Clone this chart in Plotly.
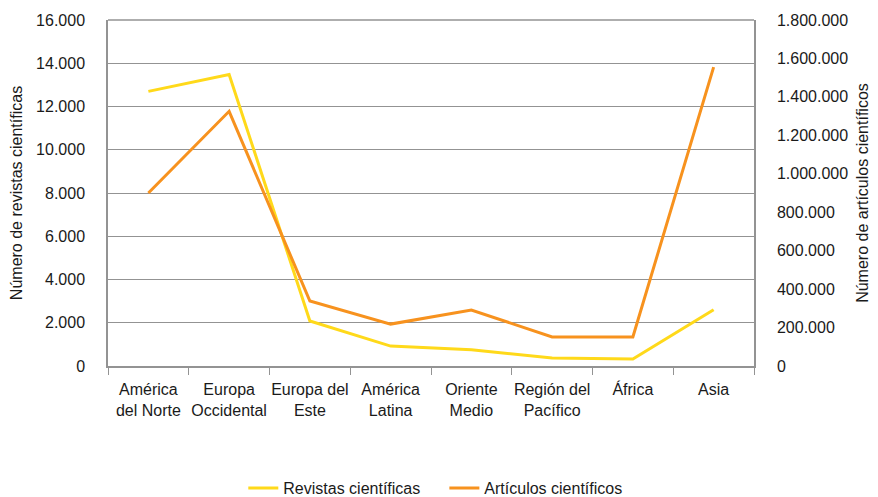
import plotly.graph_objects as go

categories = ["América<br>del Norte", "Europa<br>Occidental", "Europa del<br>Este", "América<br>Latina",
              "Oriente<br>Medio", "Región del<br>Pacífico", "África", "Asia"]
revistas = [12700, 13480, 2080, 920, 750, 370, 320, 2600]
articulos = [900000, 1325000, 338000, 218000, 291000, 151000, 151000, 1555000]
left_ticks = [0, 2000, 4000, 6000, 8000, 10000, 12000, 14000, 16000]
right_ticks = [0, 200000, 400000, 600000, 800000, 1000000, 1200000, 1400000, 1600000, 1800000]

FONT = "Liberation Sans, Arial, sans-serif"
YELLOW = "#FFD91A"
ORANGE = "#F7921E"
GRID = "#939393"
TXT = "#1a1a1a"
FS = 16

fig = go.Figure()
fig.add_trace(go.Scatter(x=categories, y=revistas, mode="lines", name="Revistas científicas",
                         line=dict(color=YELLOW, width=3), yaxis="y", legend="legend"))
fig.add_trace(go.Scatter(x=categories, y=articulos, mode="lines", name="Artículos científicos",
                         line=dict(color=ORANGE, width=3), yaxis="y2", legend="legend2"))

leg_common = dict(orientation="h", xanchor="left", xref="container",
                  y=0.034, yanchor="middle", yref="container",
                  font=dict(size=FS), bgcolor="rgba(0,0,0,0)")

fig.update_layout(
    width=878, height=497,
    margin=dict(l=100, r=132, t=12, b=139, autoexpand=False),
    paper_bgcolor="white", plot_bgcolor="white",
    separators=",.",
    font=dict(family=FONT, size=FS, color=TXT),
    showlegend=True,
    legend=dict(x=0.268, **leg_common),
    legend2=dict(x=0.497, **leg_common),
    xaxis=dict(
        type="category", showgrid=False, showline=True, linecolor=GRID, linewidth=1.5,
        ticks="outside", tickcolor=GRID, ticklen=7, tickson="boundaries", tickangle=0,
        tickfont=dict(size=FS, color=TXT), range=[-0.5, 7.5], automargin=False,
        ticklabelstandoff=8,
    ),
    yaxis=dict(
        range=[0, 16000], tickvals=left_ticks, tickformat=",.0f",
        showgrid=True, gridcolor=GRID, gridwidth=1.2, showline=True, linecolor=GRID, linewidth=1.5,
        zeroline=False, ticks="", tickfont=dict(size=FS, color=TXT), automargin=False,
        ticklabelstandoff=18,
        title=dict(text="Número de revistas científicas", font=dict(size=FS, color=TXT), standoff=14),
    ),
    yaxis2=dict(
        range=[0, 1800000], tickvals=right_ticks, tickformat=",.0f", overlaying="y", side="right",
        showgrid=False, showline=True, linecolor=GRID, linewidth=1.5, zeroline=False, ticks="",
        tickfont=dict(size=FS, color=TXT), automargin=False, ticklabelstandoff=18,
        title=dict(text="Número de artículos científicos", font=dict(size=FS, color=TXT), standoff=10),
    ),
)
# top border of the plot area
fig.add_shape(type="line", xref="paper", yref="paper", x0=0, x1=1, y0=1, y1=1,
              line=dict(color=GRID, width=1.5))

fig.write_html("out.html")
